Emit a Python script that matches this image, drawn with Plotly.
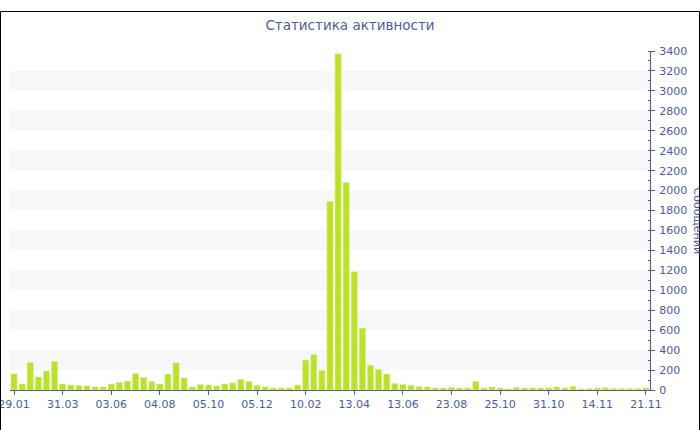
import plotly.graph_objects as go

title_text = "Статистика активности"
y_title = "Сообщений"

tick_labels = ["29.01", "31.03", "03.06", "04.08", "05.10", "05.12", "10.02",
               "13.04", "13.06", "23.08", "25.10", "31.10", "14.11", "21.11"]

messages = [160, 60, 275, 130, 190, 285, 60, 50, 45, 40,
            30, 30, 60, 75, 90, 165, 125, 85, 60, 160,
            270, 120, 30, 55, 50, 40, 60, 70, 105, 85,
            45, 30, 20, 20, 20, 50, 300, 355, 195, 1890,
            3370, 2080, 1185, 620, 245, 205, 160, 65, 55, 45,
            33, 30, 20, 20, 25, 20, 20, 85, 20, 30,
            20, 10, 25, 20, 20, 20, 20, 30, 20, 35,
            10, 13, 20, 23, 13, 13, 13, 13, 20]

periods = list(range(len(messages)))
label_step = 6
tick_positions = periods[::label_step]

blue = "#4a5c9e"
font_family = "DejaVu Sans, Verdana, sans-serif"

fig = go.Figure()
fig.add_trace(go.Bar(
    x=periods, y=messages,
    marker=dict(color="#bbe02e", line=dict(color="#d6ef7c", width=0.6)),
    hoverinfo="x+y",
))

# alternating background bands
shapes = []
for lo in range(200, 3400, 400):
    shapes.append(dict(type="rect", xref="paper", yref="y", x0=0, x1=1,
                       y0=lo, y1=lo + 200, fillcolor="#f7f7f7",
                       line=dict(width=0), layer="below"))

# outer frame around the whole figure
W, H = 700, 430
ml, mr, mt, mb = 10, 50, 51, 40
pw, ph = W - ml - mr, H - mt - mb
shapes.append(dict(type="rect", xref="paper", yref="paper",
                   x0=(0.5 - ml) / pw, x1=(W - 0.5 - ml) / pw,
                   y0=(H - mt - (H - 0.5)) / ph, y1=(H - mt - 0.5) / ph,
                   line=dict(color="black", width=1), fillcolor="rgba(0,0,0,0)"))

fig.update_layout(
    width=W, height=H,
    margin=dict(l=ml, r=mr, t=mt, b=mb, autoexpand=False),
    paper_bgcolor="white", plot_bgcolor="white",
    showlegend=False,
    bargap=0.25,
    font=dict(family=font_family, size=11, color=blue),
    title=dict(text=title_text, x=0.5, xref="container", xanchor="center",
               y=1 - 25 / H, yanchor="middle",
               font=dict(size=13.5, color=blue, family=font_family)),
    shapes=shapes,
    xaxis=dict(
        type="linear", range=[-0.5, len(messages) - 0.5],
        tickmode="array", tickvals=tick_positions, ticktext=tick_labels,
        ticks="outside", ticklen=4, tickcolor=blue,
        showline=True, linecolor=blue, linewidth=1,
        showgrid=False, zeroline=False, automargin=False,
        ticklabeloverflow="allow",
        tickfont=dict(size=11, color=blue),
    ),
    yaxis=dict(
        side="right", range=[0, 3400],
        tickmode="linear", tick0=0, dtick=200,
        ticks="outside", ticklen=4, tickcolor=blue,
        minor=dict(dtick=100, ticks="inside", ticklen=2, tickcolor=blue, showgrid=False),
        showline=True, linecolor=blue, linewidth=1,
        showgrid=False, zeroline=False, automargin=False,
        ticklabeloverflow="allow", ticklabelstandoff=2,
        tickfont=dict(size=11, color=blue),
    ),
    annotations=[dict(text=y_title, textangle=90, xref="paper", yref="paper",
                      x=(697 - ml) / pw, y=0.5, xanchor="center", yanchor="middle",
                      showarrow=False, font=dict(size=11, color=blue))],
)

fig.write_html("out.html",
               config={"displayModeBar": False},
               post_script="document.body.style.margin='0';document.body.style.overflow='hidden';")
